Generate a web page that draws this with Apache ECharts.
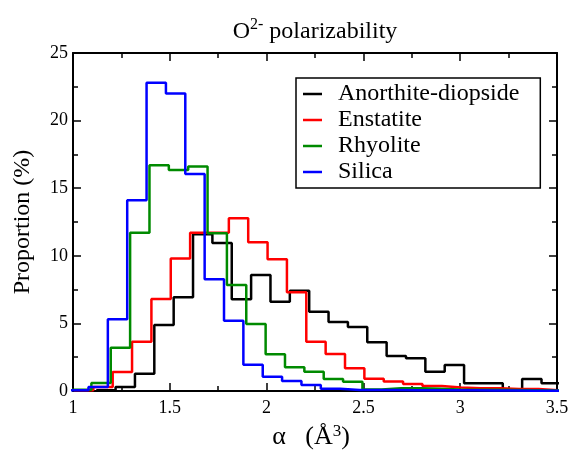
<!DOCTYPE html>
<html>
<head>
<meta charset="utf-8">
<script src="https://cdn.jsdelivr.net/npm/echarts@6/dist/echarts.min.js"></script>
<style>
  html, body { margin: 0; padding: 0; background: #fff; }
  #chart { width: 569px; height: 454px; }
</style>
</head>
<body>
<div id="chart"></div>
<script>
// histogram bins: width 0.1, each series has its own first bin edge
const binWidth = 0.1;

const anorthiteStart = 1.12;
const anorthite = [0.05, 0.3, 1.28, 4.88, 6.93, 11.6, 10.95, 6.78, 8.58, 6.6, 7.42, 5.87,
  5.1, 4.73, 3.6, 2.59, 2.42, 1.43, 1.92, 0.57, 0.57, 0.13, 0.89, 0.57];

const enstatiteStart = 1.005;
const enstatite = [0.05, 0.3, 1.4, 3.65, 6.8, 9.8, 11.7, 11.7, 12.77, 11.0, 9.74, 7.3,
  3.65, 2.74, 1.68, 0.9, 0.7, 0.52, 0.37, 0.25, 0.2, 0.2, 0.15, 0.15, 0.05];

const rhyoliteStart = 0.995;
const rhyolite = [0.1, 0.6, 3.2, 11.7, 16.7, 16.35, 16.6, 11.66, 7.84, 4.96, 2.71, 1.75,
  1.43, 0.89, 0.69, 0.12, 0.2, 0.2, 0.17, 0.12, 0.1, 0.1, 0.08, 0.06, 0.04, 0.03];

const silicaStart = 0.98;
const silica = [0.05, 0.3, 5.3, 14.1, 22.8, 22.0, 16.05, 8.26, 5.2, 1.95, 1.06, 0.74,
  0.44, 0.17, 0.08, 0.07, 0.07, 0.06, 0.06, 0.05, 0.05, 0.04, 0.03, 0.02, 0.02, 0.01];

const seriesNames = ['Anorthite-diopside', 'Enstatite', 'Rhyolite', 'Silica'];
const seriesColors = ['#000000', '#ff0000', '#008a00', '#0000ff'];

const FONT = 'Liberation Serif';

// turn bin values into step points: [leftEdge, value], plus the closing right edge
function toSteps(start, values) {
  const pts = values.map((v, i) => [+(start + i * binWidth).toFixed(4), v]);
  pts.push([+(start + values.length * binWidth).toFixed(4), values[values.length - 1]]);
  return pts;
}

const chart = echarts.init(document.getElementById('chart'), null, { renderer: 'canvas' });

const axisCommon = {
  axisLine: { onZero: false, lineStyle: { color: '#000', width: 2 } },
  axisTick: { inside: true, length: 8, lineStyle: { color: '#000', width: 1.5 } },
  minorTick: { show: true, splitNumber: 2, length: 5, lineStyle: { color: '#000', width: 1.5 } },
  splitLine: { show: false },
  minorSplitLine: { show: false },
};

const option = {
  animation: false,
  backgroundColor: '#fff',
  title: {
    text: '{b|O}{sup|2-}{b| polarizability}',
    left: 310,
    top: 12,
    textAlign: 'center',
    textStyle: {
      rich: {
        b: { fontFamily: FONT, fontSize: 24, fontWeight: 'normal', color: '#000', lineHeight: 30 },
        sup: { fontFamily: FONT, fontSize: 16, fontWeight: 'normal', color: '#000', verticalAlign: 'top', lineHeight: 16 },
      },
    },
  },
  legend: {
    orient: 'vertical',
    left: 296,
    top: 78,
    data: seriesNames,
    icon: 'rect',
    itemWidth: 19,
    itemHeight: 2.5,
    itemGap: 2,
    padding: [4, 21, 4, 7],
    borderColor: '#000',
    borderWidth: 1.5,
    formatter: (name) => '{t|' + name + '}',
    textStyle: {
      rich: {
        t: { fontFamily: FONT, fontSize: 24, color: '#000', lineHeight: 24, padding: [0, 0, 0, 11] },
      },
    },
  },
  grid: { left: 73, right: 12, top: 53, bottom: 63, outerBoundsMode: 'none' },
  xAxis: [
    {
      ...axisCommon,
      type: 'value',
      min: 1,
      max: 3.5,
      interval: 0.5,
      name: '{a|α   (Å}{sup|3}{e|)}',
      nameLocation: 'middle',
      nameGap: 32,
      nameTextStyle: {
        rich: {
          a: { fontFamily: FONT, fontSize: 26, color: '#000', lineHeight: 28 },
          sup: { fontFamily: FONT, fontSize: 17, color: '#000', verticalAlign: 'top', lineHeight: 15 },
          e: { fontFamily: FONT, fontSize: 26, color: '#000', lineHeight: 28, padding: [0, 8, 0, 0] },
        },
      },
      axisLabel: {
        fontFamily: FONT, fontSize: 18, color: '#000', margin: 8,
        formatter: (v) => String(+v.toFixed(2)),
      },
    },
    { ...axisCommon, type: 'value', position: 'top', min: 1, max: 3.5, interval: 0.5, axisLabel: { show: false } },
  ],
  yAxis: [
    {
      ...axisCommon,
      type: 'value',
      min: 0,
      max: 25,
      interval: 5,
      name: 'Proportion (%)',
      nameLocation: 'middle',
      nameGap: 38,
      nameTextStyle: { fontFamily: FONT, fontSize: 24, color: '#000' },
      axisLabel: { fontFamily: FONT, fontSize: 18, color: '#000', margin: 5 },
    },
    { ...axisCommon, type: 'value', position: 'right', min: 0, max: 25, interval: 5, axisLabel: { show: false } },
  ],
  series: [
    [anorthiteStart, anorthite],
    [enstatiteStart, enstatite],
    [rhyoliteStart, rhyolite],
    [silicaStart, silica],
  ].map(([start, values], i) => ({
    name: seriesNames[i],
    type: 'line',
    step: 'end',
    symbol: 'none',
    clip: true,
    data: toSteps(start, values),
    itemStyle: { color: seriesColors[i] },
    lineStyle: { color: seriesColors[i], width: 2.5 },
  })),
};

chart.setOption(option);
</script>
</body>
</html>
